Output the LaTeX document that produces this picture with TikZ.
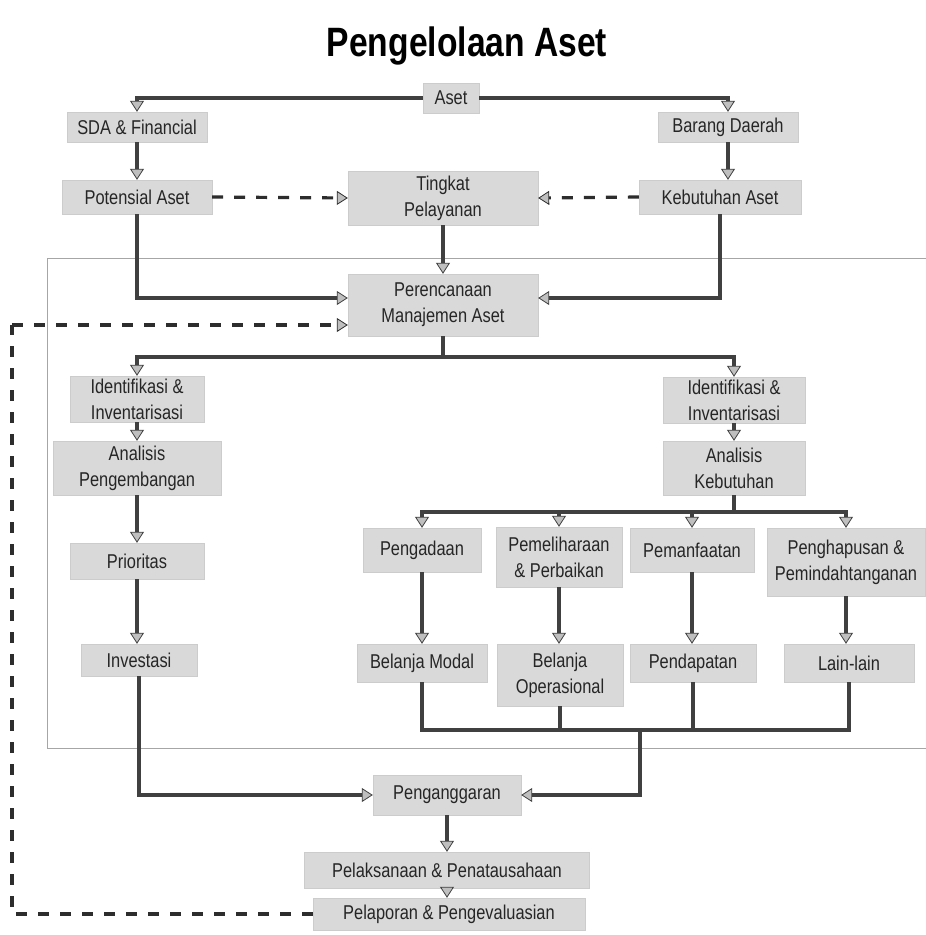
\documentclass[tikz,border=0pt]{standalone}
\usepackage{fontspec}
\setmainfont[FakeStretch=0.82]{Liberation Sans}
\usetikzlibrary{arrows.meta,calc}
\tikzset{
  box/.style={fill=gray!30, draw=gray!40, line width=0.4pt, align=center, inner sep=2pt,
    font=\fontsize{20}{26}\selectfont, text=black!85},
  conn/.style={draw=gray!50!black, line width=3.2pt,
    -{Triangle[length=11pt, width=14pt, fill=gray!50, line width=0.8pt]}},
  link/.style={draw=gray!50!black, line width=3.2pt},
  dashconn/.style={draw=gray!35!black, line width=3.2pt, dash pattern=on 11pt off 11pt,
    -{Triangle[length=11pt, width=14pt, fill=gray!50, line width=0.8pt]}},
  dashlink/.style={draw=gray!35!black, line width=3.2pt, dash pattern=on 11pt off 11pt},
  frame/.style={draw=gray!70, line width=0.8pt}
}
\begin{document}
\begin{tikzpicture}[x=1pt, y=-1pt]
\useasboundingbox (0,0) rectangle (926,935);
% title
\node[font=\bfseries\fontsize{41}{48}\selectfont] (title) at (467,46) {Pengelolaan Aset};
% frame
\draw[frame] (930,258) -- (47,258) -- (47,748) -- (930,748);
% nodes
\node[box, minimum width=56, minimum height=30] (aset) at (451,98) {Aset};
\node[box, minimum width=140, minimum height=30] (sda) at (137,127) {SDA \& Financial};
\node[box, minimum width=140, minimum height=30] (barang) at (728,127) {Barang Daerah};
\node[box, minimum width=150, minimum height=34] (pot) at (137,197) {Potensial Aset};
\node[box, minimum width=190, minimum height=54] (ting) at (443,198) {Tingkat\\Pelayanan};
\node[box, minimum width=162, minimum height=34] (keb) at (720,197) {Kebutuhan Aset};
\node[box, minimum width=190, minimum height=62] (peren) at (443,305) {Perencanaan\\Manajemen Aset};
\node[box, minimum width=134, minimum height=46] (idL) at (137,399) {Identifikasi \&\\Inventarisasi};
\node[box, minimum width=142, minimum height=46] (idR) at (734,400) {Identifikasi \&\\Inventarisasi};
\node[box, minimum width=168, minimum height=54] (anP) at (137,468) {Analisis\\Pengembangan};
\node[box, minimum width=142, minimum height=54] (anK) at (734,468) {Analisis\\Kebutuhan};
\node[box, minimum width=134, minimum height=36] (prio) at (137,561) {Prioritas};
\node[box, minimum width=116, minimum height=32] (inv) at (139,660) {Investasi};
\node[box, minimum width=118, minimum height=44] (peng) at (422,550) {Pengadaan};
\node[box, minimum width=126, minimum height=60] (pem) at (559,557) {Pemeliharaan\\\& Perbaikan};
\node[box, minimum width=124, minimum height=44] (manf) at (692,550) {Pemanfaatan};
\node[box, minimum width=158, minimum height=68] (hap) at (846,562) {Penghapusan \&\\Pemindahtanganan};
\node[box, minimum width=130, minimum height=38] (bm) at (422,663) {Belanja Modal};
\node[box, minimum width=126, minimum height=62] (bop) at (560,675) {Belanja\\Operasional};
\node[box, minimum width=126, minimum height=38] (pend) at (693,663) {Pendapatan};
\node[box, minimum width=130, minimum height=38] (lain) at (849,663) {Lain-lain};
\node[box, minimum width=148, minimum height=40] (angg) at (447,795) {Penganggaran};
\node[box, minimum width=285, minimum height=36] (pelak) at (447,870) {Pelaksanaan \& Penatausahaan};
\node[box, minimum width=272, minimum height=32] (pelap) at (449,914) {Pelaporan \& Pengevaluasian};
% helper coordinates
\coordinate (s1) at (443,357);
\coordinate (s2) at (734,512);
\coordinate (j) at (640,730);
\coordinate (loopTL) at (12,325);
\coordinate (loopBL) at (12,914);
% connectors
\draw[conn] (aset.west) -| (sda.north);
\draw[conn] (aset.east) -| (barang.north);
\draw[conn] (sda.south) -- (pot.north);
\draw[conn] (barang.south) -- (barang.south |- keb.north);
\draw[dashconn] (pot.east) -- (ting.west);
\draw[dashconn] (keb.west) -- (ting.east);
\draw[conn] (ting.south) -- (peren.north);
\draw[conn] (pot.south) |- ([yshift=7pt]peren.west);
\draw[conn] (keb.south) |- ([yshift=7pt]peren.east);
\draw[link] (peren.south) -- (s1);
\draw[conn] (s1) -| (idL.north);
\draw[conn] (s1) -| (idR.north);
\draw[conn] (idL.south) -- (anP.north);
\draw[conn] (anP.south) -- (prio.north);
\draw[conn] (prio.south) -- (prio.south |- inv.north);
\draw[conn] (idR.south) -- (anK.north);
\draw[link] (anK.south) -- (s2);
\draw[conn] (s2) -| (peng.north);
\draw[conn] (s2) -| (pem.north);
\draw[conn] (s2) -| (manf.north);
\draw[conn] (s2) -| (hap.north);
\draw[conn] (peng.south) -- (bm.north);
\draw[conn] (pem.south) -- (pem.south |- bop.north);
\draw[conn] (manf.south) -- (manf.south |- pend.north);
\draw[conn] (hap.south) -- (hap.south |- lain.north);
\draw[link] (bm.south) |- (j);
\draw[link] (lain.south) |- (j);
\draw[link] (bop.south) -- (bop.south |- j);
\draw[link] (pend.south) -- (pend.south |- j);
\draw[conn] (j) |- (angg.east);
\draw[conn] (inv.south) |- (angg.west);
\draw[conn] (angg.south) -- (angg.south |- pelak.north);
\draw[conn] (pelak.south) -- (pelak.south |- pelap.north);
\draw[dashlink] (pelap.west) -- (loopBL) -- (loopTL);
\draw[dashconn] (loopTL) -- ([yshift=-20pt]peren.west);
\end{tikzpicture}
\end{document}
